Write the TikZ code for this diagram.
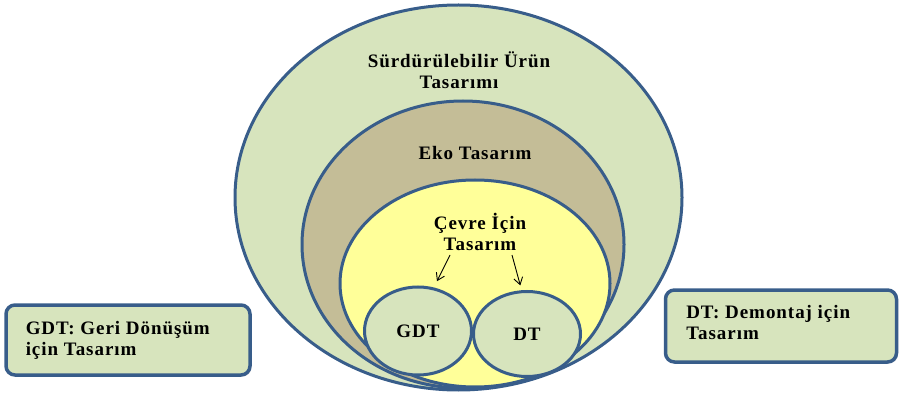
\documentclass[tikz,border=0pt]{standalone}
\usepackage{fontspec}
\setmainfont{Liberation Serif}[LetterSpace=5]
\usetikzlibrary{shapes.geometric,shadows,arrows.meta}
\definecolor{rim}{HTML}{385D8A}
\definecolor{sage}{HTML}{D7E4BD}
\definecolor{tan}{HTML}{C4BD97}
\definecolor{lemon}{HTML}{FFFF99}
\tikzset{
  ring/.style={draw=rim,ellipse,line width=3pt},
  notebox/.style={draw=rim,fill=sage,rounded corners=9pt,line width=3.5pt,
    drop shadow={opacity=0.25,shadow xshift=1.5pt,shadow yshift=-1.5pt}},
  pointer/.style={line width=0.9pt,-{Straight Barb[length=7pt,width=9pt]}}
}

\begin{document}
\begin{tikzpicture}[x=1pt,y=-1pt,font=\fontsize{19}{21}\selectfont\bfseries]
  \useasboundingbox (0,0) rectangle (899,395);
  % nested ellipses
  \node [ring,fill=sage, minimum width=447pt, minimum height=385pt] (sut) at (458.5,197.5) {};
  \node [ring,fill=tan, minimum width=322pt, minimum height=287pt] (eko) at (463,244.5) {};
  \node [ring,fill=lemon, minimum width=270pt, minimum height=207pt] (cit) at (475,283.5) {};
  \node [ring,fill=sage, minimum width=107pt, minimum height=88pt] (gdt) at (418,331) {GDT};
  \node [ring,fill=sage, minimum width=107pt, minimum height=85pt] (dt) at (527,334) {DT};
  % labels
  \node [align=center] (sutlabel) at (459,70) {Sürdürülebilir Ürün\\Tasarımı};
  \node (ekolabel) at (475,153) {Eko Tasarım};
  \node [align=center] (citlabel) at (480,232) {Çevre İçin\\Tasarım};
  \coordinate (a1) at (450,255);
  \coordinate (a2) at (512,255);
  \draw[pointer,shorten >=7pt] (a1) -- (gdt.70);
  \draw[pointer,shorten >=5pt] (a2) -- (dt.97);
  % side notes
  \node [notebox, minimum width=244pt, minimum height=70pt] (gdtbox) at (128,340) {};
  \node [anchor=west, align=left] (gdtnote) at ([xshift=18pt]gdtbox.west) {GDT: Geri Dönüşüm\\için Tasarım};
  \node [notebox, minimum width=231pt, minimum height=72pt] (dtbox) at (781,326) {};
  \node [anchor=west, align=left] (dtnote) at ([xshift=19pt,yshift=3pt]dtbox.west) {DT: Demontaj için\\Tasarım};
\end{tikzpicture}
\end{document}
